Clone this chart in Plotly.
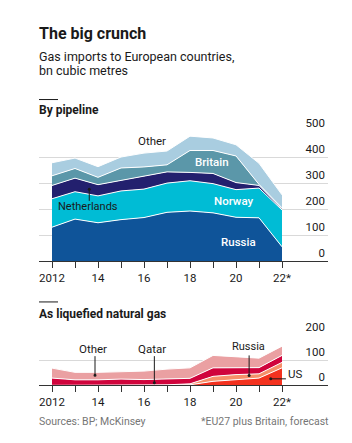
import plotly.graph_objects as go

years = list(range(2012, 2023))

# By pipeline, bn cubic metres (stacked bottom to top)
pipe_russia = [131, 162, 148, 160, 168, 188, 193, 186, 169, 167, 56]
pipe_norway = [109, 105, 103, 110, 109, 112, 116, 112, 106, 114, 141]
pipe_netherlands = [51, 52, 43, 40, 51, 43, 32, 39, 27, 10, 5]
pipe_britain = [37, 37, 28, 48, 34, 27, 84, 88, 102, 4, 3]
pipe_other = [50, 40, 41, 42, 53, 53, 55, 48, 43, 81, 50]

# As liquefied natural gas (stacked bottom to top)
lng_us = [0, 0, 0, 0, 0, 0, 2, 16, 24, 29, 70]
lng_russia = [0, 0, 0, 0, 0, 2, 4, 20, 19, 17, 22]
lng_qatar = [29, 22, 22, 25, 23, 22, 22, 34, 29, 25, 28]
lng_other = [40, 30, 30, 30, 34, 41, 42, 50, 43, 38, 37]

tick_vals = [2012, 2014, 2016, 2018, 2020, 2022]
tick_text = ["2012", "14", "16", "18", "20", "22*"]
top_yticks = [0, 100, 200, 300, 400, 500]
bot_yticks = [0, 100, 200]

W, H = 352, 443
FONT = "Roboto, Liberation Sans, sans-serif"
DARK = "#1a1a1a"

def py(p):
    return 1 - p / H

fig = go.Figure()

top_series = [
    ("Russia", pipe_russia, "#0f5499"),
    ("Norway", pipe_norway, "#00bcd5"),
    ("Netherlands", pipe_netherlands, "#23206e"),
    ("Britain", pipe_britain, "#5b97a9"),
    ("Other", pipe_other, "#a9cde0"),
]
for name, vals, col in top_series:
    fig.add_trace(go.Scatter(x=years, y=vals, name=name, stackgroup="pipe",
                             mode="lines", line=dict(color="white", width=1),
                             fillcolor=col, xaxis="x", yaxis="y",
                             hoverinfo="skip", showlegend=False))

bot_series = [
    ("US", lng_us, "#f3321f"),
    ("Russia", lng_russia, "#f6906a"),
    ("Qatar", lng_qatar, "#d0043c"),
    ("Other", lng_other, "#eaa0a2"),
]
for name, vals, col in bot_series:
    fig.add_trace(go.Scatter(x=years, y=vals, name=name, stackgroup="lng",
                             mode="lines", line=dict(color="white", width=1),
                             fillcolor=col, xaxis="x2", yaxis="y2",
                             hoverinfo="skip", showlegend=False))

x0p, x1p = 39 / W, 328 / W
xrange = [2012 - 13 / 23, 2022 + 46 / 23]

xaxis_common = dict(
    range=xrange, domain=[x0p, x1p], showgrid=False, zeroline=False,
    showline=True, linecolor="#333333", linewidth=1,
    tickmode="array", tickvals=tick_vals, ticktext=tick_text,
    ticks="outside", ticklen=6, tickcolor="#333333", tickwidth=1,
    tickfont=dict(family=FONT, size=11.5, color=DARK),
    minor=dict(tickvals=years, ticks="outside", ticklen=6,
               tickcolor="#333333", tickwidth=1, showgrid=False),
    fixedrange=True,
)
yaxis_common = dict(
    side="right", showgrid=True, gridcolor="#d9d9d9", gridwidth=1,
    zeroline=False, showline=False, ticks="",
    ticklabelposition="inside top", ticklabeloverflow="allow",
    tickfont=dict(family=FONT, size=11.5, color=DARK),
    tickmode="array", fixedrange=True,
)

fig.update_layout(
    width=W, height=H,
    margin=dict(l=0, r=0, t=0, b=0),
    paper_bgcolor="white", plot_bgcolor="white",
    xaxis=dict(anchor="y", **xaxis_common),
    yaxis=dict(anchor="x", range=[0, 500], tickvals=top_yticks,
               domain=[py(255), py(120)], **yaxis_common),
    xaxis2=dict(anchor="y2", **xaxis_common),
    yaxis2=dict(anchor="x2", range=[0, 200], tickvals=bot_yticks,
                domain=[py(383.3), py(331.7)], **yaxis_common),
    font=dict(family=FONT, color=DARK),
)

anns = []
def ptext(x, y, text, size, color=DARK, xanchor="left", weight="normal"):
    anns.append(dict(xref="paper", yref="paper", x=x / W, y=py(y), text=text,
                     showarrow=False, xanchor=xanchor, yanchor="middle",
                     borderpad=0,
                     font=dict(family=FONT, size=size, color=color, weight=weight)))

ptext(38, 19.5, "The big crunch", 16, weight="bold")
ptext(38, 42.5, "Gas imports to European countries,", 12.5)
ptext(38, 57, "bn cubic metres", 12.5)
ptext(38, 98.5, "By pipeline", 12, weight="bold")
ptext(38, 309.5, "As liquefied natural gas", 12, weight="bold")
ptext(38, 420.5, "Sources: BP; McKinsey", 10.5, color="#767676")
ptext(330, 420.5, "*EU27 plus Britain, forecast", 10.5, color="#767676", xanchor="right")

def dtext(x, y, text, size, color, xr, yr, weight="normal"):
    anns.append(dict(xref=xr, yref=yr, x=x, y=y, text=text, showarrow=False,
                     xanchor="center", yanchor="middle", borderpad=0,
                     font=dict(family=FONT, size=size, color=color, weight=weight)))

dtext(2016.33, 463, "Other", 11.5, DARK, "x", "y")
dtext(2018.94, 379, "Britain", 11.5, "white", "x", "y", weight=500)
dtext(2019.87, 230, "Norway", 11.5, "white", "x", "y", weight=500)
dtext(2020.13, 74, "Russia", 11.5, "white", "x", "y", weight=500)
dtext(2013.55, 210, "Netherlands", 11, DARK, "x", "y")

dtext(2013.77, 147, "Other", 11.5, DARK, "x2", "y2")
dtext(2016.36, 147, "Qatar", 11.5, DARK, "x2", "y2")
dtext(2020.53, 157, "Russia", 11, DARK, "x2", "y2")
dtext(2022.57, 45, "US", 11.5, DARK, "x2", "y2")

fig.update_layout(annotations=anns)

shapes = []
def seg(x0, y0, x1, y1, xr, yr, color=DARK, w=1):
    shapes.append(dict(type="line", xref=xr, yref=yr, x0=x0, y0=y0, x1=x1, y1=y1,
                       line=dict(color=color, width=w)))

def dot(x, y, xr, yr, r=1.5, color=DARK):
    shapes.append(dict(type="circle", xref=xr, yref=yr,
                       xsizemode="pixel", ysizemode="pixel",
                       xanchor=x, yanchor=y, x0=-r, x1=r, y0=-r, y1=r,
                       fillcolor=color, line=dict(width=0)))

seg(39 / W, py(87.5), 58 / W, py(87.5), "paper", "paper", w=1)
seg(39 / W, py(297), 58 / W, py(297), "paper", "paper", w=1)

seg(2013.62, 232, 2013.62, 276, "x", "y")
dot(2013.62, 276, "x", "y")
seg(2013.87, 117, 2013.87, 40, "x2", "y2")
dot(2013.87, 40, "x2", "y2")
seg(2016.45, 117, 2016.45, 10, "x2", "y2")
dot(2016.45, 10, "x2", "y2")
seg(2020.57, 120, 2020.57, 39, "x2", "y2")
dot(2020.57, 39, "x2", "y2")
seg(2021.51, 26, 2022.17, 26, "x2", "y2")
dot(2021.51, 26, "x2", "y2")

fig.update_layout(shapes=shapes)

fig.write_html("out.html")
